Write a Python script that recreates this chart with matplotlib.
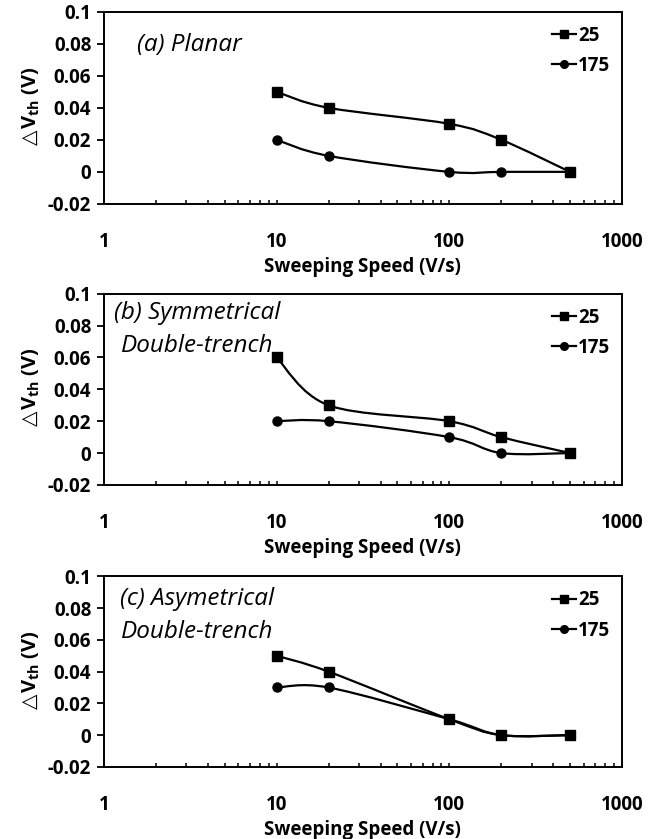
import numpy as np
import matplotlib
matplotlib.use('Agg')
import matplotlib.pyplot as plt
from matplotlib.path import Path
from matplotlib.patches import PathPatch
from matplotlib.lines import Line2D
from matplotlib.ticker import LogLocator, NullFormatter, FixedLocator

plt.rcParams['font.family'] = ['Open Sans', 'DejaVu Sans']

speed = [10, 20, 100, 200, 500]   # V/s

titles = ['(a) Planar',
          '(b) Symmetrical\nDouble-trench',
          '(c) Asymetrical\nDouble-trench']
labels = ['25', '175']
dvth_25 = [[0.05, 0.04, 0.03, 0.02, 0.0],
           [0.06, 0.03, 0.02, 0.01, 0.0],
           [0.05, 0.04, 0.01, 0.0, 0.0]]
dvth_175 = [[0.02, 0.01, 0.0, 0.0, 0.0],
            [0.02, 0.02, 0.01, 0.0, 0.0],
            [0.03, 0.03, 0.01, 0.0, 0.0]]
yticks = [-0.02, 0, 0.02, 0.04, 0.06, 0.08, 0.1]
ytick_labels = ['-0.02', '0', '0.02', '0.04', '0.06', '0.08', '0.1']
xticks = [1, 10, 100, 1000]


def smooth_line(ax, xs, ys, lw=1.6):
    # spreadsheet-style smoothed line: cubic bezier segments with
    # catmull-rom control points worked out in screen space
    pts = ax.transData.transform(np.column_stack([xs, ys]))
    n = len(pts)
    verts = [pts[0]]
    codes = [Path.MOVETO]
    for i in range(n - 1):
        p0 = pts[i - 1] if i > 0 else pts[i]
        p1 = pts[i]
        p2 = pts[i + 1]
        p3 = pts[i + 2] if i + 2 < n else pts[i + 1]
        c1 = p1 + (p2 - p0) / 6.0
        c2 = p2 - (p3 - p1) / 6.0
        verts += [c1, c2, p2]
        codes += [Path.CURVE4] * 3
    verts = ax.transData.inverted().transform(np.array(verts))
    ax.add_patch(PathPatch(Path(verts, codes), fill=False, lw=lw,
                           edgecolor='black', capstyle='round', zorder=2))


fig = plt.figure(figsize=(6.61, 8.39), dpi=100)
boxes = [(0.157, 0.757, 0.784, 0.229),
         (0.157, 0.422, 0.784, 0.228),
         (0.157, 0.086, 0.784, 0.227)]
title_pos = [(0.166, 0.825), (0.18, 0.81), (0.18, 0.795)]

for k, box in enumerate(boxes):
    ax = fig.add_axes(box)
    ax.set_xscale('log')
    ax.set_xlim(1, 1000)
    ax.set_ylim(-0.02, 0.1)

    ax.set_yticks(yticks)
    ax.set_yticklabels(ytick_labels)
    ax.xaxis.set_major_locator(FixedLocator(xticks))
    ax.set_xticklabels([str(v) for v in xticks])
    ax.xaxis.set_minor_locator(LogLocator(base=10, subs=np.arange(2, 10)))
    ax.xaxis.set_minor_formatter(NullFormatter())

    ax.tick_params(axis='y', direction='out', length=5, width=1.3,
                   labelsize=13.5, pad=4)
    ax.tick_params(axis='x', which='both', direction='in', length=3,
                   width=1.1, labelsize=13.5, pad=20)
    for lab in ax.get_xticklabels() + ax.get_yticklabels():
        lab.set_fontweight('bold')
    for sp in ax.spines.values():
        sp.set_linewidth(1.4)

    ax.set_xlabel('Sweeping Speed (V/s)', fontsize=13.5, fontweight='bold',
                  labelpad=4)
    ax.set_ylabel(r'$\triangle\!$V$_{\mathregular{th}}$ (V)', fontsize=14.5,
                  fontweight='bold', labelpad=4)

    smooth_line(ax, speed, dvth_25[k])
    smooth_line(ax, speed, dvth_175[k])
    ax.plot(speed, dvth_25[k], 's', color='black', ms=7.5, zorder=3)
    ax.plot(speed, dvth_175[k], 'o', color='black', ms=6.5, zorder=3)

    ax.text(title_pos[k][0], title_pos[k][1], titles[k],
            transform=ax.transAxes, fontsize=17.5, style='italic',
            ha='center', va='center', linespacing=1.5)

    handles = [Line2D([], [], color='black', lw=1.6, marker='s', ms=6),
               Line2D([], [], color='black', lw=1.6, marker='o', ms=5.5)]
    ax.legend(handles, labels, loc='upper right', bbox_to_anchor=(1.01, 1.015),
              frameon=False, handlelength=1.3, handletextpad=0.1,
              labelspacing=0.55, prop={'size': 13.5, 'weight': 'bold'})

fig.savefig('out.png', dpi=100)
